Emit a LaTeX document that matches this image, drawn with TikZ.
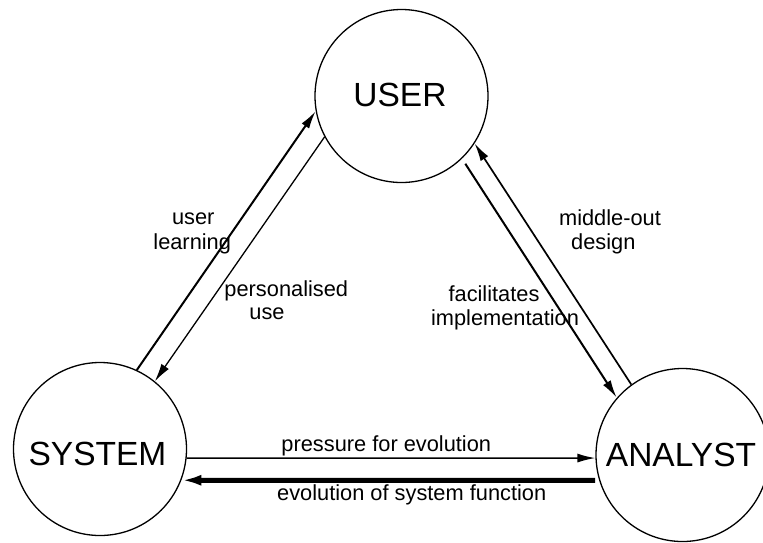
\documentclass[tikz,border=0pt]{standalone}
\usepackage{fontspec}
\setmainfont{Liberation Sans}
\usetikzlibrary{arrows.meta}
\begin{document}
\begin{tikzpicture}[x=1pt,y=-1pt,
  actor/.style={draw, circle, minimum size=173pt, inner sep=0pt, line width=1.3pt},
  bigtext/.style={anchor=base, inner sep=0pt, font=\fontsize{33.5}{40}\selectfont},
  smalltext/.style={anchor=base, inner sep=0pt, font=\fontsize{21.8}{26}\selectfont},
  flow/.style={-{Latex[length=18pt,width=9pt]}, line width=1.8pt},
]
\useasboundingbox (0,0) rectangle (763,542);
\fill[white] (0,0) rectangle (763,542);

\node[actor] (user) at (401.5,96) {};
\node[actor] (sys) at (100,449) {};
\node[actor] (an) at (682.5,455) {};

\node[bigtext] (userT) at (400,106) {USER};
\node[bigtext] (sysT) at (97.5,465.7) {SYSTEM};
\node[bigtext] (anT) at (681,466) {ANALYST};

% connectors
\draw[flow, line width=2pt] (sys.65) -- (user.190);
\draw[flow, line width=1.3pt] (user.208) -- (sys.51);
\draw[flow, line width=2pt, shorten <=6pt] (user.-46) -- (an.139);
\draw[flow, line width=1.7pt] (an.126) -- (user.-33);
\draw[flow, line width=1.6pt] (sys.-6) -- (an.182);
\draw[-{Latex[length=20pt,width=11pt]}, line width=5pt, shorten <=4pt] (an.197) -- (sys.-21);

% labels
\node[smalltext] (l1a) at (193.3,224) {user};
\node[smalltext] (l1b) at (192.2,249.3) {learning};
\node[smalltext] (l2a) at (286.3,296.7) {personalised};
\node[smalltext] (l2b) at (267,319.3) {use};
\node[smalltext] (l3a) at (610,225) {middle-out};
\node[smalltext] (l3b) at (603.3,249.3) {design};
\node[smalltext] (l4a) at (494,301.7) {facilitates};
\node[smalltext] (l4b) at (505,325) {implementation};
\node[smalltext] (l5) at (386.3,451.7) {pressure for evolution};
\node[smalltext] (l6) at (411.7,500) {evolution of system function};
\end{tikzpicture}
\end{document}
